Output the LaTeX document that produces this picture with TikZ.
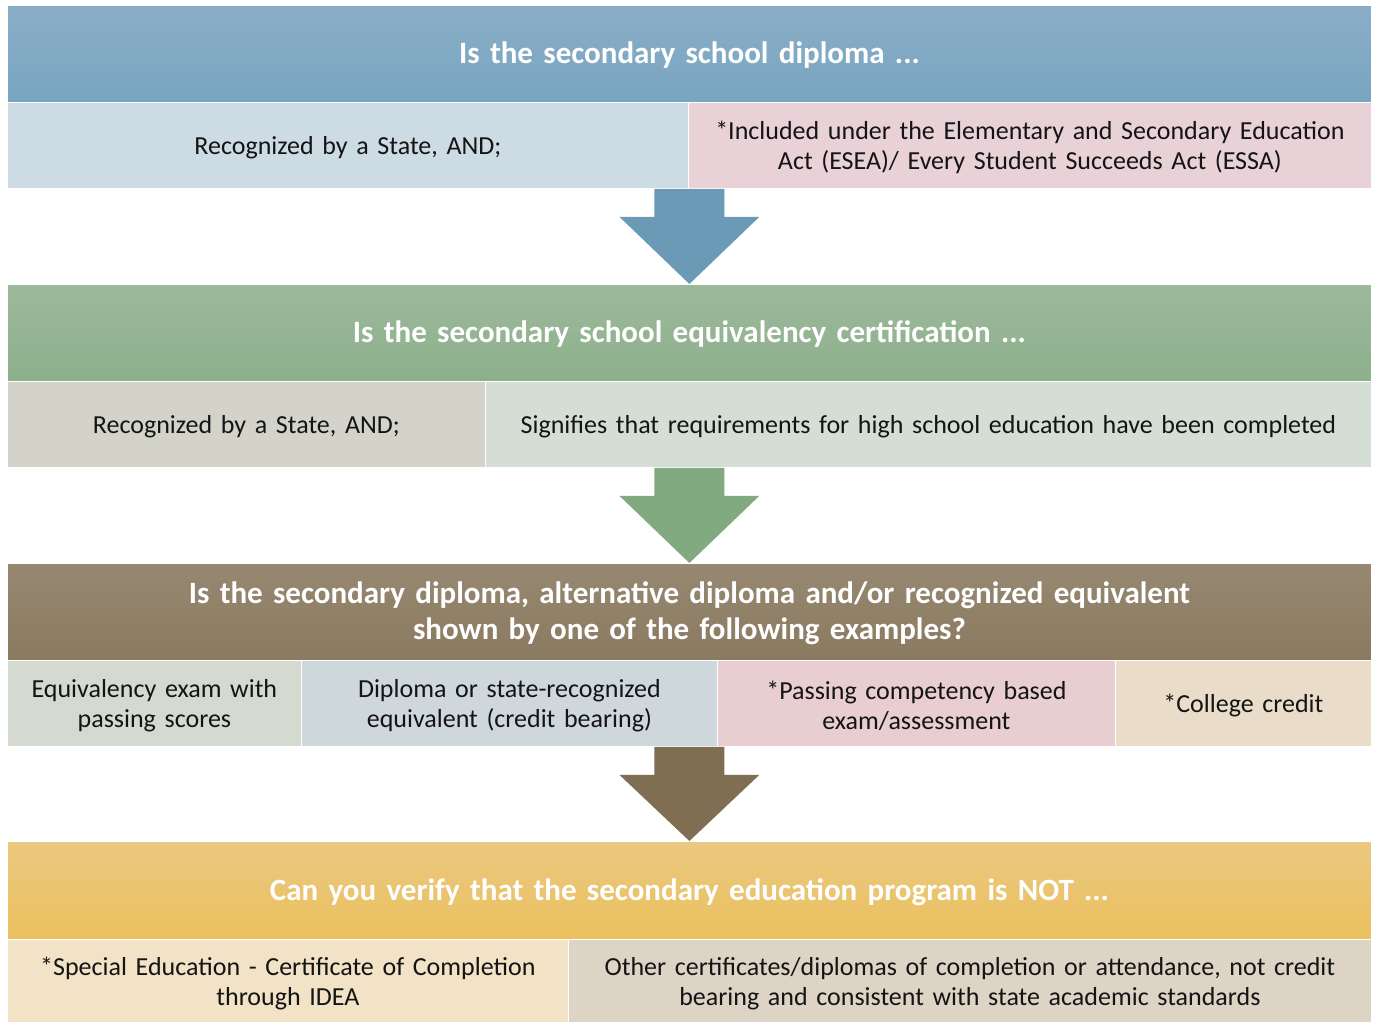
\documentclass[tikz,border=0pt]{standalone}
\usepackage{fontspec}
\setmainfont{Carlito}
\usetikzlibrary{calc}
\definecolor{hAt}{HTML}{8BAEC7}\definecolor{hAb}{HTML}{78A5C0}
\definecolor{cAa}{HTML}{CDDBE4}\definecolor{cAb}{HTML}{E8D1D7}
\definecolor{arA}{HTML}{6B9AB6}
\definecolor{hBt}{HTML}{9DB99B}\definecolor{hBb}{HTML}{8DB08C}
\definecolor{cBa}{HTML}{D3D3CA}\definecolor{cBb}{HTML}{D4DED4}
\definecolor{arB}{HTML}{82AA80}
\definecolor{hCt}{HTML}{978872}\definecolor{hCb}{HTML}{8A7A60}
\definecolor{cCa}{HTML}{D4DAD0}\definecolor{cCb}{HTML}{CED7DC}
\definecolor{cCc}{HTML}{E8CDD1}\definecolor{cCd}{HTML}{E9DDC9}
\definecolor{arC}{HTML}{7F6E52}
\definecolor{hDt}{HTML}{EAC880}\definecolor{hDb}{HTML}{EBC05E}
\definecolor{cDa}{HTML}{F2E2C6}\definecolor{cDb}{HTML}{DDD4C6}
\definecolor{txt}{HTML}{141414}
\tikzset{
  hdr/.style={anchor=north west, minimum width=1364, minimum height=97, inner sep=0,
    draw=white, line width=0.8},
  hdrtext/.style={inner sep=0, text width=1344,
    font=\fontsize{31}{36}\selectfont\bfseries, text=white, align=center},
  cell/.style={anchor=north west, inner sep=0, minimum height=86,
    minimum width=#1, draw=white, line width=0.8},
  celltext/.style={inner sep=0, text width=#1-20,
    font=\fontsize{26}{30}\selectfont, text=txt, align=center},
}
\newcommand{\flowarrow}[3]{%
  \fill[#3] ($(#1)+(-35,0)$) -- ($(#1)+(-35,28)$) -- ($(#1)+(-70,28)$) -- (#2)
    -- ($(#1)+(70,28)$) -- ($(#1)+(35,28)$) -- ($(#1)+(35,0)$) -- cycle;}
\begin{document}
\begin{tikzpicture}[x=1pt,y=-1pt]
\useasboundingbox[fill=white] (0,0) rectangle (1374,1023);
% Block 1
\node[hdr, top color=hAt, bottom color=hAb] (h1) at (7,5) {};
\node[hdrtext] (th1) at ($(h1.center)+(0,1.5)$) {Is the secondary school diploma ...};
\node[cell=681, fill=cAa] (r1a) at (7,102) {};
\node[celltext=681] (tr1a) at ($(r1a.center)+(0,2)$) {Recognized by a State, AND;};
\node[cell=683, fill=cAb] (r1b) at (688,102) {};
\node[celltext=683] (tr1b) at ($(r1b.center)+(0,2)$) {*Included under the Elementary and Secondary Education\\Act (ESEA)/ Every Student Succeeds Act (ESSA)};
% Block 2
\node[hdr, top color=hBt, bottom color=hBb] (h2) at (7,284) {};
\node[hdrtext] (th2) at ($(h2.center)+(0,1.5)$) {Is the secondary school equivalency certification ...};
\node[cell=478, fill=cBa] (r2a) at (7,381) {};
\node[celltext=478] (tr2a) at ($(r2a.center)+(0,2)$) {Recognized by a State, AND;};
\node[cell=886, fill=cBb] (r2b) at (485,381) {};
\node[celltext=886] (tr2b) at ($(r2b.center)+(0,2)$) {Signifies that requirements for high school education have been completed};
% Block 3
\node[hdr, top color=hCt, bottom color=hCb] (h3) at (7,563) {};
\node[hdrtext] (th3) at ($(h3.center)+(0,1.5)$) {Is the secondary diploma, alternative diploma and/or recognized equivalent\\shown by one of the following examples?};
\node[cell=294, fill=cCa] (r3a) at (7,660) {};
\node[celltext=294] (tr3a) at ($(r3a.center)+(0,2)$) {Equivalency exam with\\passing scores};
\node[cell=416, fill=cCb] (r3b) at (301,660) {};
\node[celltext=416] (tr3b) at ($(r3b.center)+(0,2)$) {Diploma or state-recognized\\equivalent (credit bearing)};
\node[cell=398, fill=cCc] (r3c) at (717,660) {};
\node[celltext=398] (tr3c) at ($(r3c.center)+(0,2)$) {*Passing competency based\\exam/assessment};
\node[cell=256, fill=cCd] (r3d) at (1115,660) {};
\node[celltext=256] (tr3d) at ($(r3d.center)+(0,2)$) {*College credit};
% Block 4
\node[hdr, minimum height=98, top color=hDt, bottom color=hDb] (h4) at (7,841) {};
\node[hdrtext] (th4) at ($(h4.center)+(0,1.5)$) {Can you verify that the secondary education program is NOT ...};
\node[cell=561, minimum height=83, fill=cDa] (r4a) at (7,939) {};
\node[celltext=561] (tr4a) at ($(r4a.center)+(0,3)$) {*Special Education - Certificate of Completion\\through IDEA};
\node[cell=803, minimum height=83, fill=cDb] (r4b) at (568,939) {};
\node[celltext=803] (tr4b) at ($(r4b.center)+(0,3)$) {Other certificates/diplomas of completion or attendance, not credit\\bearing and consistent with state academic standards};
% Arrows
\coordinate (s1) at (h1.center |- r1a.south);
\coordinate (s2) at (h2.center |- r2a.south);
\coordinate (s3) at (h3.center |- r3a.south);
\flowarrow{s1}{h2.north}{arA}
\flowarrow{s2}{h3.north}{arB}
\flowarrow{s3}{h4.north}{arC}
\end{tikzpicture}
\end{document}
